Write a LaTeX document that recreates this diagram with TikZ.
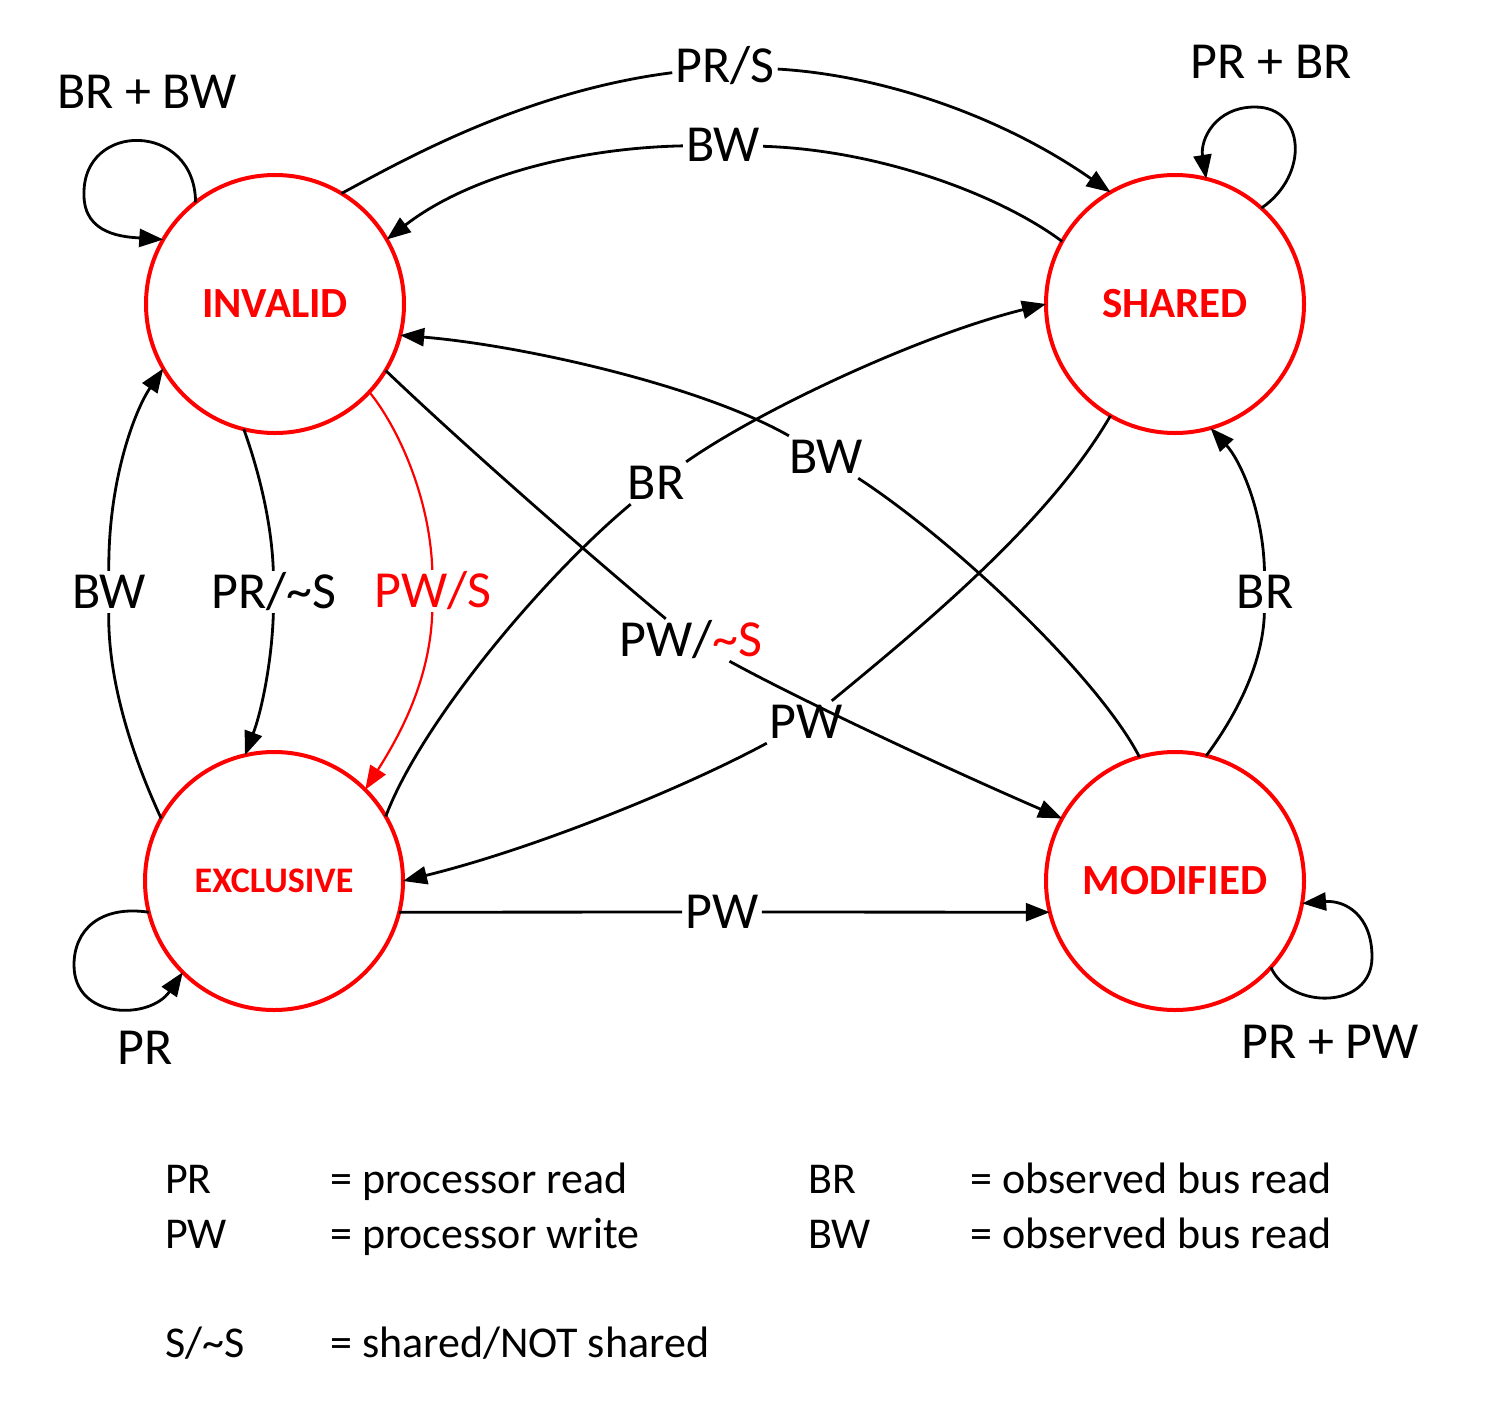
\documentclass[tikz,border=0pt]{standalone}
\usepackage{fontspec}
\setmainfont{Carlito}
\usetikzlibrary{arrows.meta}
\definecolor{sred}{RGB}{255,0,0}
\begin{document}
\begin{tikzpicture}[x=1pt,y=-1pt,
  state/.style={circle, draw=sred, line width=4pt, minimum size=258pt, inner sep=0pt, outer sep=0pt,
    text=sred, font=\bfseries\fontsize{43pt}{50pt}\selectfont},
  lbl/.style={font=\fontsize{52pt}{60pt}\selectfont, inner sep=3pt, text height=34pt, text depth=2pt},
  edge/.style={line width=2.8pt, black},
  arr/.style={edge, -{Triangle[length=24pt,width=18pt]}},
  leg/.style={font=\fontsize{44pt}{50pt}\selectfont, anchor=base west, inner sep=0pt}
]
\useasboundingbox (0,0) rectangle (1492,1414);

% states
\node[state] (I) at (275,304) {INVALID};
\node[state] (S) at (1175,304) {SHARED};
\node[state, font=\bfseries\fontsize{36pt}{42pt}\selectfont] (E) at (274,881) {EXCLUSIVE};
\node[state] (M) at (1175,881) {MODIFIED};

% edge labels
\node[lbl] (lPRS) at (725,66) {PR/S};
\node[lbl] (lBWt) at (723,145) {BW};
\node[lbl] (lBRm) at (656,483) {BR};
\node[lbl] (lBWm) at (826,457) {BW};
\node[lbl] (lPWnS) at (691,640) {PW/\textcolor{sred}{\textasciitilde S}};
\node[lbl] (lPWm) at (806,722) {PW};
\node[lbl] (lBWl) at (109,592) {BW};
\node[lbl] (lPRnS) at (274,592) {PR/\textasciitilde S};
\node[lbl, text=sred] (lPWS) at (433,591) {PW/S};
\node[lbl] (lBRr) at (1265,592) {BR};
\node[lbl] (lPWb) at (722,912) {PW};

% loop labels
\node[lbl] (lLI) at (147,92) {BR + BW};
\node[lbl] (lLS) at (1271,62) {PR + BR};
\node[lbl] (lLE) at (145,1048) {PR};
\node[lbl] (lLM) at (1330,1042) {PR + PW};

% INVALID -> SHARED (PR/S)
\draw[edge] (I.59) .. controls (395,165) and (520,92) .. (lPRS);
\draw[arr] (lPRS) .. controls (880,75) and (1000,115) .. (S.120);

% SHARED -> INVALID (BW)
\draw[edge] (S.151) .. controls (1000,195) and (880,150) .. (lBWt);
\draw[arr] (lBWt) .. controls (580,148) and (470,175) .. (I.30);

% EXCLUSIVE -> SHARED (BR)
\draw[edge] (E.30) .. controls (420,725) and (540,580) .. (lBRm);
\draw[arr] (lBRm) .. controls (760,410) and (920,335) .. (S.180);

% MODIFIED -> INVALID (BW)
\draw[edge] (M.106) .. controls (1100,680) and (960,545) .. (lBWm);
\draw[arr] (lBWm) .. controls (700,385) and (520,345) .. (I.-14);

% SHARED -> EXCLUSIVE (PW)
\draw[edge] (S.-120) .. controls (1050,520) and (930,620) .. (lPWm);
\draw[arr] (lPWm) .. controls (680,790) and (530,850) .. (E.0);

% INVALID -> MODIFIED (PW/~S)
\draw[edge] (I.-31) .. controls (450,432) and (560,530) .. (lPWnS);
\draw[arr] (lPWnS) .. controls (800,700) and (950,770) .. (M.151);

% INVALID -> EXCLUSIVE (PR/~S)
\draw[edge] (I.-104) .. controls (262,480) and (272,530) .. (lPRnS);
\draw[arr] (lPRnS) .. controls (272,660) and (262,710) .. (E.103);

% INVALID -> EXCLUSIVE (PW/S), red
\draw[edge, sred, line width=2.2pt] (I.-43) .. controls (400,430) and (430,500) .. (lPWS);
\draw[arr, sred, line width=2.2pt] (lPWS) .. controls (430,680) and (400,735) .. (E.45);

% EXCLUSIVE -> INVALID (BW)
\draw[edge] (E.151) .. controls (125,740) and (108,670) .. (lBWl);
\draw[arr] (lBWl) .. controls (108,480) and (135,410) .. (I.210);

% MODIFIED -> SHARED (BR)
\draw[edge] (M.76) .. controls (1240,710) and (1263,660) .. (lBRr);
\draw[arr] (lBRr) .. controls (1263,510) and (1240,460) .. (S.-74);

% EXCLUSIVE -> MODIFIED (PW)
\draw[edge] (E.-14) -- (lPWb);
\draw[arr] (lPWb) -- (M.194);

% self loops
\draw[arr] (I.128) .. controls (195,121) and (82,121) .. (84,195) .. controls (84,235) and (125,237) .. (I.150);
\draw[arr] (S.48) .. controls (1310,175) and (1305,107) .. (1255,107) .. controls (1215,107) and (1200,140) .. (S.76);
\draw[arr] (E.194) .. controls (100,905) and (74,930) .. (74,965) .. controls (74,1020) and (150,1020) .. (E.225);
\draw[arr] (M.-42) .. controls (1290,1010) and (1372,1010) .. (1372,957) .. controls (1372,915) and (1345,900) .. (M.-10);

% legend
\node[leg] (k1) at (165,1193) {PR};
\node[leg] (k1d) at (330,1193) {= processor read};
\node[leg] (k2) at (808,1193) {BR};
\node[leg] (k2d) at (970,1193) {= observed bus read};
\node[leg] (k3) at (165,1248) {PW};
\node[leg] (k3d) at (330,1248) {= processor write};
\node[leg] (k4) at (808,1248) {BW};
\node[leg] (k4d) at (970,1248) {= observed bus read};
\node[leg] (k5) at (165,1357) {S/\textasciitilde S};
\node[leg] (k5d) at (330,1357) {= shared/NOT shared};
\end{tikzpicture}
\end{document}
